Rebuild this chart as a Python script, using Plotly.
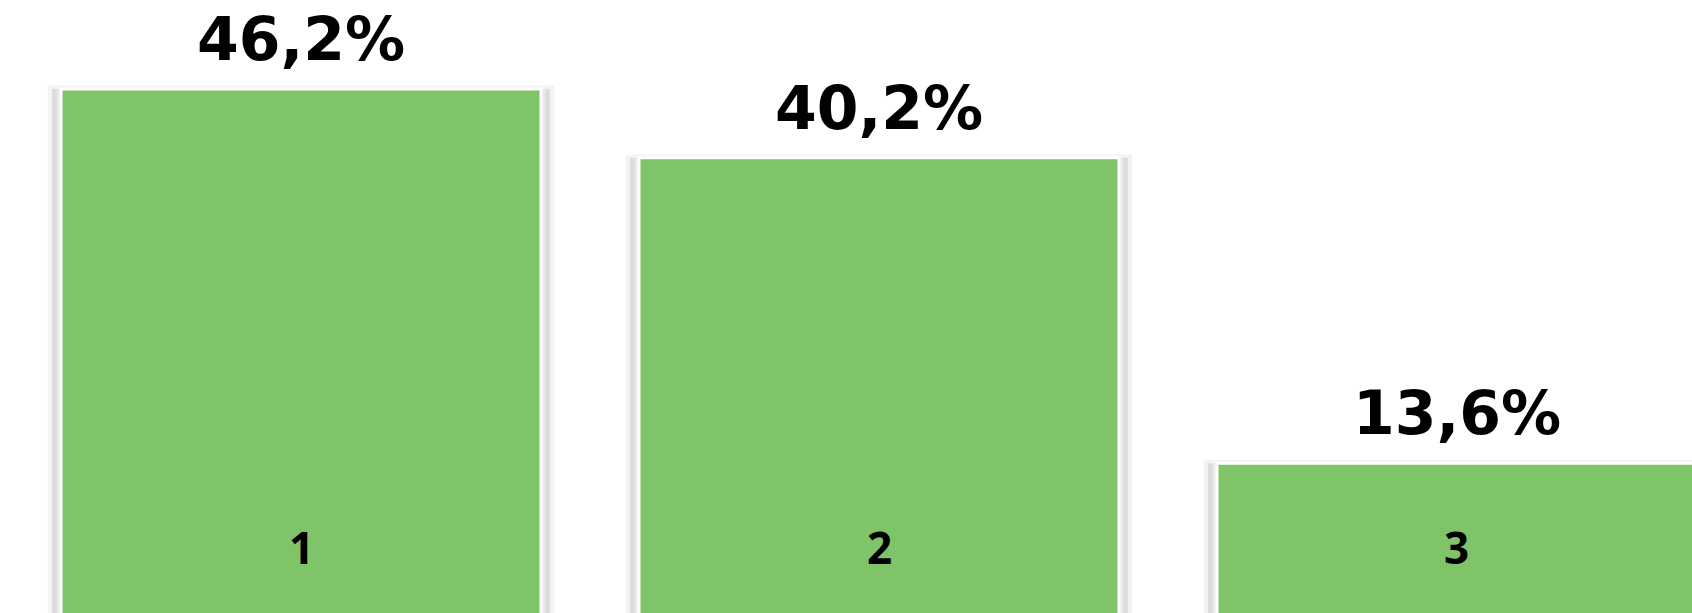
import plotly.graph_objects as go

categories = [1, 2, 3]
category_labels = ["1", "2", "3"]
values = [46.2, 40.2, 13.6]
value_labels = ["46,2%", "40,2%", "13,6%"]

BAR_W = 0.8304
GREEN = "#80C469"

fig = go.Figure()

# soft drop-shadow layers behind each bar
shadow_layers = [
    (BAR_W + 0.046, "#f3f3f3", 0.3),
    (BAR_W + 0.031, "#dcdcdc", 0.0),
    (BAR_W + 0.015, "#eaeaea", 0.0),
]
for w, col, dy in shadow_layers:
    fig.add_trace(go.Bar(
        x=categories, y=[v + dy for v in values], width=w,
        marker=dict(color=col, line=dict(width=0)),
        hoverinfo="skip", showlegend=False,
    ))

fig.add_trace(go.Bar(
    x=categories, y=values, width=BAR_W,
    marker=dict(color=GREEN, line=dict(color="white", width=3)),
    showlegend=False,
))

for c, v, t in zip(categories, values, value_labels):
    fig.add_annotation(
        x=c, y=v, xref="x", yref="y", text=t, showarrow=False,
        yanchor="middle", yshift=50,
        font=dict(family="DejaVu Sans", size=60, color="black", weight="bold"),
    )

for c, t in zip(categories, category_labels):
    fig.add_annotation(
        x=c, y=0.108, xref="x", yref="paper", text=t, showarrow=False,
        yanchor="middle",
        font=dict(family="Open Sans", size=44, color="black", weight="bold"),
    )

fig.update_layout(
    width=1692, height=613,
    margin=dict(l=0, r=0, t=0, b=0),
    paper_bgcolor="white", plot_bgcolor="white",
    barmode="overlay",
    xaxis=dict(range=[0.4792, 3.4066], visible=False, fixedrange=True),
    yaxis=dict(range=[0.557, 53.95], visible=False, fixedrange=True),
)

fig.write_html(
    "out.html",
    config={"displayModeBar": False},
    post_script="document.body.style.margin='0';document.body.style.padding='0';",
)
